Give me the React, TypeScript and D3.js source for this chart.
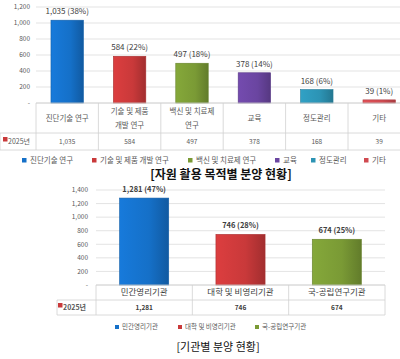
import { useEffect, useRef } from "react";
import * as d3 from "d3";

const FONT = "'Noto Sans CJK KR', 'Noto Sans', sans-serif";

// chart 1: 자원 활용 목적별
const purposeCats = ["진단기술 연구", "기술 및 제품 개발 연구", "백신 및 치료제 연구", "교육", "정도관리", "기타"];
const purposeLines = [["진단기술 연구"], ["기술 및 제품", "개발 연구"], ["백신 및 치료제", "연구"], ["교육"], ["정도관리"], ["기타"]];
const purposeValues = [1035, 584, 497, 378, 168, 39];
const purposePct = [38, 22, 18, 14, 6, 1];
const purposeColors = ["#1570c8", "#c9393a", "#7a9a35", "#6a45a0", "#2c93b4", "#d04a50"];
const purposeTicks = [0, 200, 400, 600, 800, 1000, 1200];
const purposeLegendX = [22, 92, 188, 275, 311, 364];

// chart 2: 기관별
const orgCats = ["민간영리기관", "대학 및 비영리기관", "국-공립연구기관"];
const orgValues = [1281, 746, 674];
const orgPct = [47, 28, 25];
const orgColors = ["#1570c8", "#c9393a", "#7a9a35"];
const orgTicks = [0, 200, 400, 600, 800, 1000, 1200, 1400];
const orgLegendX = [115, 178, 255];

const yearLabel = "2025년";

const width = 400;
const height = 359;

const fmt = (d: number) => (d === 0 ? "-" : d3.format(",")(d));

function App() {
  const svgRef = useRef(null);

  useEffect(() => {
    const svg = d3.select(svgRef.current);
    svg.selectAll("*").remove();

    const defs = svg.append("defs");
    const allColors = Array.from(new Set([...purposeColors, ...orgColors]));
    allColors.forEach((c, i) => {
      const g = defs.append("linearGradient").attr("id", "g" + i).attr("x1", 0).attr("x2", 1).attr("y1", 0).attr("y2", 0);
      g.append("stop").attr("offset", "0%").attr("stop-color", d3.color(c)!.brighter(0.25).toString());
      g.append("stop").attr("offset", "60%").attr("stop-color", c);
      g.append("stop").attr("offset", "100%").attr("stop-color", d3.color(c)!.darker(0.6).toString());
    });
    const gradId = (c: string) => "url(#g" + allColors.indexOf(c) + ")";

    // ---------- chart 1 ----------
    const x1 = d3.scaleBand().domain(purposeCats).range([36, 410.4]).paddingInner(0.48).paddingOuter(0.24);
    const y1 = d3.scaleLinear().domain([0, 1200]).range([103, 7]);
    const c1 = svg.append("g");

    c1.selectAll(".grid")
      .data(purposeTicks)
      .join("line")
      .attr("x1", 36)
      .attr("x2", 400)
      .attr("y1", d => y1(d))
      .attr("y2", d => y1(d))
      .attr("stroke", "#dcdcdc")
      .attr("stroke-width", 0.8);

    c1.selectAll(".tick")
      .data(purposeTicks)
      .join("text")
      .attr("x", 30)
      .attr("y", d => y1(d))
      .attr("dy", "0.35em")
      .attr("text-anchor", "end")
      .attr("font-size", 6.5)
      .attr("fill", "#595959")
      .text(fmt);

    c1.selectAll(".bar")
      .data(purposeValues)
      .join("rect")
      .attr("x", (d, i) => x1(purposeCats[i])!)
      .attr("y", d => y1(d))
      .attr("width", x1.bandwidth())
      .attr("height", d => y1(0) - y1(d))
      .attr("fill", (d, i) => gradId(purposeColors[i]))
      .attr("stroke", (d, i) => d3.color(purposeColors[i])!.darker(0.5).toString())
      .attr("stroke-width", 0.6);

    c1.selectAll(".val")
      .data(purposeValues)
      .join("text")
      .attr("x", (d, i) => x1(purposeCats[i])! + x1.bandwidth() / 2)
      .attr("y", d => y1(d) - 6)
      .attr("text-anchor", "middle")
      .attr("font-size", 8)
      .attr("fill", "#404040")
      .text((d, i) => `${fmt(d)} (${purposePct[i]}%)`);

    // table
    const step1 = x1.step();
    const t1 = c1.append("g").attr("stroke", "#d0d0d0").attr("stroke-width", 0.8);
    purposeCats.forEach((c, i) => {
      const left = 36 + i * step1;
      t1.append("line").attr("x1", left).attr("x2", left).attr("y1", 103).attr("y2", 150);
    });
    t1.append("line").attr("x1", 0).attr("x2", 0).attr("y1", 133).attr("y2", 150);
    t1.append("line").attr("x1", 36).attr("x2", 400).attr("y1", 103).attr("y2", 103);
    t1.append("line").attr("x1", 0).attr("x2", 400).attr("y1", 133).attr("y2", 133);
    t1.append("line").attr("x1", 0).attr("x2", 400).attr("y1", 150).attr("y2", 150);

    purposeLines.forEach((lines, i) => {
      const cx = x1(purposeCats[i])! + x1.bandwidth() / 2;
      lines.forEach((l, j) => {
        c1.append("text")
          .attr("x", cx)
          .attr("y", 118 + (j - (lines.length - 1) / 2) * 14)
          .attr("dy", "0.35em")
          .attr("text-anchor", "middle")
          .attr("font-size", 7.5)
          .attr("fill", "#595959")
          .text(l);
      });
      c1.append("text")
        .attr("x", cx)
        .attr("y", 141.5)
        .attr("dy", "0.35em")
        .attr("text-anchor", "middle")
        .attr("font-size", 6.5)
        .attr("fill", "#595959")
        .text(d3.format(",")(purposeValues[i]));
    });
    c1.append("rect").attr("x", 3).attr("y", 137).attr("width", 4.5).attr("height", 4.5).attr("fill", purposeColors[1]);
    c1.append("text")
      .attr("x", 8)
      .attr("y", 142)
      .attr("dy", "0.35em")
      .attr("font-size", 7)
      .attr("fill", "#595959")
      .text(yearLabel);

    // legend
    purposeCats.forEach((c, i) => {
      const lx = purposeLegendX[i];
      c1.append("rect").attr("x", lx).attr("y", 158).attr("width", 4.5).attr("height", 4.5).attr("fill", purposeColors[i]);
      c1.append("text")
        .attr("x", lx + 8)
        .attr("y", 160.5)
        .attr("dy", "0.35em")
        .attr("font-size", 7.5)
        .attr("fill", "#595959")
        .text(c);
    });

    c1.append("text")
      .attr("x", 221)
      .attr("y", 175)
      .attr("dy", "0.35em")
      .attr("text-anchor", "middle")
      .attr("font-size", 12)
      .attr("font-weight", 600)
      .attr("fill", "#111")
      .text("[자원 활용 목적별 분양 현황]");

    // ---------- chart 2 ----------
    const x2 = d3.scaleBand().domain(orgCats).range([96, 385]).paddingInner(0.49).paddingOuter(0.245);
    const y2 = d3.scaleLinear().domain([0, 1400]).range([285, 190]);
    const c2 = svg.append("g");

    c2.selectAll(".grid")
      .data(orgTicks)
      .join("line")
      .attr("x1", 96)
      .attr("x2", 385)
      .attr("y1", d => y2(d))
      .attr("y2", d => y2(d))
      .attr("stroke", "#dcdcdc")
      .attr("stroke-width", 0.8);

    c2.selectAll(".tick")
      .data(orgTicks)
      .join("text")
      .attr("x", 88)
      .attr("y", d => y2(d))
      .attr("dy", "0.35em")
      .attr("text-anchor", "end")
      .attr("font-size", 6.5)
      .attr("fill", "#595959")
      .text(fmt);

    c2.selectAll(".bar")
      .data(orgValues)
      .join("rect")
      .attr("x", (d, i) => x2(orgCats[i])!)
      .attr("y", d => y2(d))
      .attr("width", x2.bandwidth())
      .attr("height", d => y2(0) - y2(d))
      .attr("fill", (d, i) => gradId(orgColors[i]))
      .attr("stroke", (d, i) => d3.color(orgColors[i])!.darker(0.5).toString())
      .attr("stroke-width", 0.6);

    c2.selectAll(".val")
      .data(orgValues)
      .join("text")
      .attr("x", (d, i) => x2(orgCats[i])! + x2.bandwidth() / 2)
      .attr("y", d => y2(d) - 6)
      .attr("text-anchor", "middle")
      .attr("font-size", 7.5)
      .attr("font-weight", 700)
      .attr("fill", "#404040")
      .text((d, i) => `${fmt(d)} (${orgPct[i]}%)`);

    const step2 = x2.step();
    const t2 = c2.append("g").attr("stroke", "#d0d0d0").attr("stroke-width", 0.8);
    [0, 1, 2, 3].forEach(i => {
      const left = 96 + i * step2;
      t2.append("line").attr("x1", left).attr("x2", left).attr("y1", 285).attr("y2", 315);
    });
    t2.append("line").attr("x1", 57).attr("x2", 57).attr("y1", 300).attr("y2", 315);
    t2.append("line").attr("x1", 96).attr("x2", 385).attr("y1", 285).attr("y2", 285);
    t2.append("line").attr("x1", 57).attr("x2", 385).attr("y1", 300).attr("y2", 300);
    t2.append("line").attr("x1", 57).attr("x2", 385).attr("y1", 315).attr("y2", 315);

    orgCats.forEach((c, i) => {
      const cx = x2(c)! + x2.bandwidth() / 2;
      c2.append("text")
        .attr("x", cx)
        .attr("y", 292.5)
        .attr("dy", "0.35em")
        .attr("text-anchor", "middle")
        .attr("font-size", 8.5)
        .attr("fill", "#404040")
        .text(c);
      c2.append("text")
        .attr("x", cx)
        .attr("y", 307.5)
        .attr("dy", "0.35em")
        .attr("text-anchor", "middle")
        .attr("font-size", 6.5)
        .attr("font-weight", 700)
        .attr("fill", "#404040")
        .text(d3.format(",")(orgValues[i]));
    });
    c2.append("rect").attr("x", 58).attr("y", 303).attr("width", 4.5).attr("height", 4.5).attr("fill", orgColors[1]);
    c2.append("text")
      .attr("x", 63)
      .attr("y", 308)
      .attr("dy", "0.35em")
      .attr("font-size", 7)
      .attr("font-weight", 700)
      .attr("fill", "#595959")
      .text(yearLabel);

    orgCats.forEach((c, i) => {
      const lx = orgLegendX[i];
      c2.append("rect").attr("x", lx).attr("y", 325).attr("width", 4).attr("height", 4).attr("fill", orgColors[i]);
      c2.append("text")
        .attr("x", lx + 7)
        .attr("y", 327)
        .attr("dy", "0.35em")
        .attr("font-size", 6.5)
        .attr("fill", "#595959")
        .text(c);
    });

    c2.append("text")
      .attr("x", 218)
      .attr("y", 347)
      .attr("dy", "0.35em")
      .attr("text-anchor", "middle")
      .attr("font-size", 11)
      .attr("fill", "#111")
      .text("[기관별 분양 현황]");
  }, []);

  return (
    <svg
      ref={svgRef}
      width={width}
      height={height}
      style={{ position: "absolute", left: 0, top: 0, background: "#fff", fontFamily: FONT }}
    ></svg>
  );
}

export default App;
